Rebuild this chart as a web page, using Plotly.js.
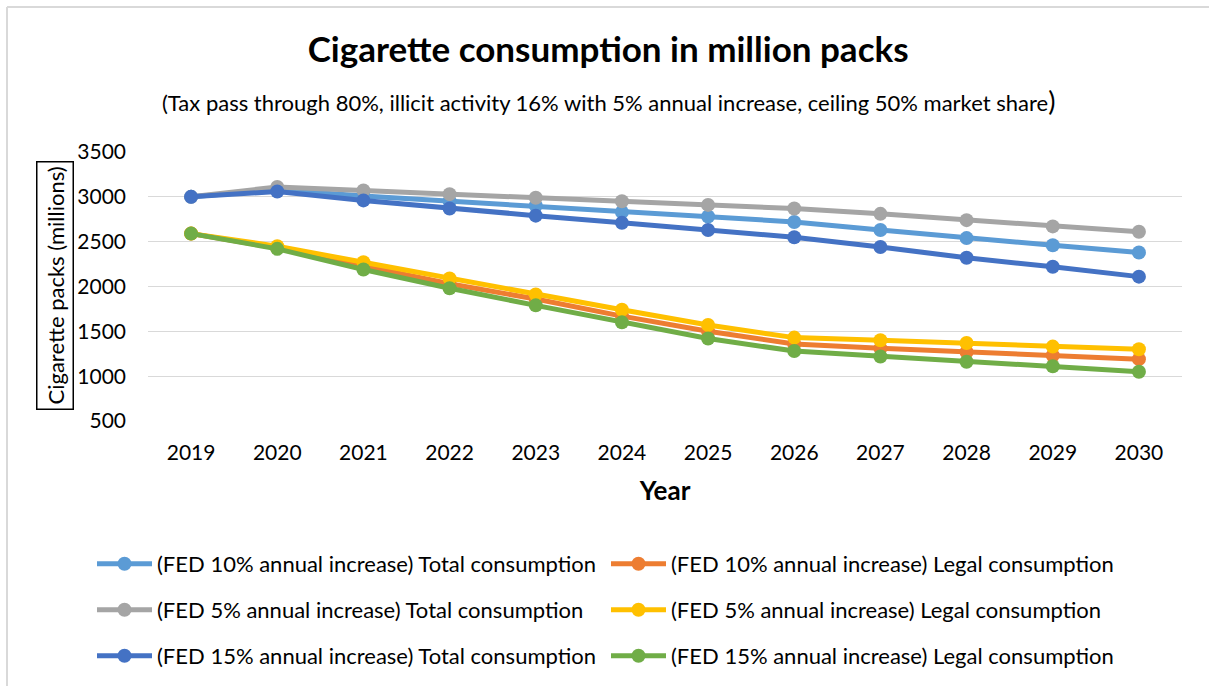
<!DOCTYPE html>
<html>
<head>
<meta charset="utf-8">
<script src="https://cdn.plot.ly/plotly-3.0.1.min.js"></script>
<style>html,body{margin:0;padding:0;background:#fff;}#chart{width:1209px;height:686px;}</style>
</head>
<body>
<div id="chart"></div>
<script>
const years = ['2019','2020','2021','2022','2023','2024','2025','2026','2027','2028','2029','2030'];
const fed10Total = [3000, 3080, 3010, 2950, 2900, 2830, 2780, 2720, 2630, 2540, 2460, 2380];
const fed10Legal = [2590, 2430, 2230, 2030, 1860, 1670, 1500, 1360, 1310, 1270, 1230, 1190];
const fed5Total  = [3000, 3110, 3070, 3030, 2990, 2950, 2910, 2870, 2810, 2740, 2670, 2610];
const fed5Legal  = [2590, 2450, 2270, 2090, 1910, 1740, 1570, 1430, 1400, 1370, 1330, 1300];
const fed15Total = [3000, 3060, 2960, 2870, 2790, 2710, 2630, 2550, 2440, 2320, 2220, 2110];
const fed15Legal = [2590, 2420, 2190, 1980, 1790, 1600, 1420, 1280, 1220, 1160, 1110, 1050];

const seriesNames = [
  '(FED 10% annual increase) Total consumption',
  '(FED 10% annual increase) Legal consumption',
  '(FED 5% annual increase) Total consumption',
  '(FED 5% annual increase) Legal consumption',
  '(FED 15% annual increase) Total consumption',
  '(FED 15% annual increase) Legal consumption'
];
const seriesData = [fed10Total, fed10Legal, fed5Total, fed5Legal, fed15Total, fed15Legal];
const colors = ['#5B9BD5', '#ED7D31', '#A5A5A5', '#FFC000', '#4472C4', '#70AD47'];
const legendIds = ['legend', 'legend2', 'legend3', 'legend4', 'legend5', 'legend6'];

const FONT = 'Lato, "Open Sans", sans-serif';

const traces = seriesData.map((vals, i) => ({
  type: 'scatter',
  mode: 'lines+markers',
  x: years,
  y: vals,
  name: seriesNames[i],
  legend: legendIds[i],
  line: {color: colors[i], width: 5},
  marker: {color: colors[i], size: 14},
  cliponaxis: false
}));

const legendCols = [92/1209, 606/1209];
const legendRows = [1 - 564/686, 1 - 610/686, 1 - 656/686];
function legendAt(col, row) {
  return {
    orientation: 'v',
    xref: 'container', yref: 'container',
    x: legendCols[col], y: legendRows[row], xanchor: 'left', yanchor: 'middle',
    font: {family: FONT, size: 22, color: '#000'},
    bgcolor: 'rgba(0,0,0,0)',
    itemwidth: 55
  };
}

const PL = 148, PW = 1034, PB = 421, PH = 269;
const px = v => (v - PL) / PW;
const py = v => (PB - v) / PH;

const layout = {
  width: 1209, height: 686,
  margin: {l: PL, r: 1209 - PL - PW, t: PB - PH, b: 686 - PB, autoexpand: false},
  paper_bgcolor: '#fff', plot_bgcolor: '#fff',
  font: {family: FONT, color: '#000'},
  title: {
    text: '<b>Cigarette consumption in million packs</b>',
    font: {family: FONT, size: 35, color: '#000'},
    x: 0.503, xanchor: 'center', y: 1 - 50/686, yanchor: 'middle'
  },
  xaxis: {
    type: 'category',
    range: [-0.5, 11.5],
    showgrid: false, zeroline: false, showline: false,
    ticks: '', ticklen: 0,
    tickfont: {family: FONT, size: 21, color: '#000'},
    ticklabelstandoff: 17,
    title: {text: '<b>Year</b>', font: {family: FONT, size: 26, color: '#000'}, standoff: 18}
  },
  yaxis: {
    range: [500, 3500],
    tickvals: [500, 1000, 1500, 2000, 2500, 3000, 3500],
    showgrid: true, gridcolor: '#D9D9D9', gridwidth: 1.3,
    zeroline: false, showline: false, ticks: '',
    tickfont: {family: FONT, size: 21, color: '#000'},
    ticklabelstandoff: 21
  },
  showlegend: true,
  legend: legendAt(0, 0),
  legend2: legendAt(1, 0),
  legend3: legendAt(0, 1),
  legend4: legendAt(1, 1),
  legend5: legendAt(0, 2),
  legend6: legendAt(1, 2),
  annotations: [
    {
      text: '(Tax pass through 80%, illicit activity 16% with 5% annual increase, ceiling 50% market share<span style="font-size:27px">)</span>',
      xref: 'paper', yref: 'paper',
      x: px(608), y: py(101), xanchor: 'center', yanchor: 'middle',
      showarrow: false,
      font: {family: FONT, size: 22, color: '#000'}
    },
    {
      text: 'Cigarette packs (millions)',
      xref: 'paper', yref: 'paper',
      x: px(55), y: py(286), xanchor: 'center', yanchor: 'middle',
      textangle: -90, showarrow: false,
      bordercolor: '#000', borderwidth: 1.5, borderpad: 4,
      font: {family: FONT, size: 22, color: '#000'}
    }
  ],
  shapes: [
    {type: 'line', xref: 'paper', yref: 'paper', x0: px(7), x1: px(1215), y0: py(7), y1: py(7), line: {color: '#D9D9D9', width: 2}},
    {type: 'line', xref: 'paper', yref: 'paper', x0: px(7), x1: px(7), y0: py(7), y1: py(700), line: {color: '#D9D9D9', width: 2}}
  ]
};

Plotly.newPlot('chart', traces, layout, {displayModeBar: false, staticPlot: true});
</script>
</body>
</html>
